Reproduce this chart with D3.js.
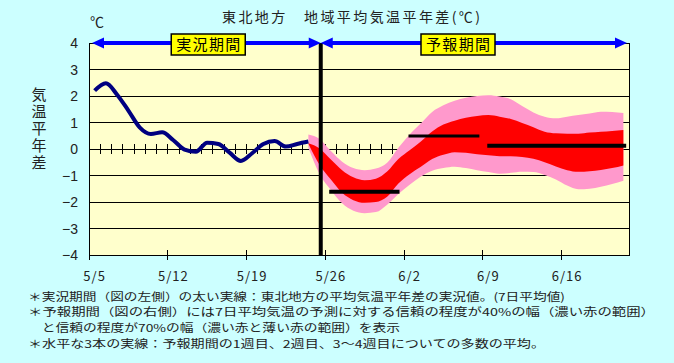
<!DOCTYPE html>
<html>
<head>
<meta charset="utf-8">
<script src="https://cdn.jsdelivr.net/npm/d3@7"></script>
<style>
    body { margin: 0; background: #ccffff; }
    text { font-family: "Noto Sans CJK JP", sans-serif; fill: #222; }
</style>
</head>
<body>
<svg id="chart"></svg>
<script>
// x labels every 7 days from 5/5
const dateLabels = ['5/5', '5/12', '5/19', '5/26', '6/2', '6/9', '6/16'];
const yTicks = [4, 3, 2, 1, 0, -1, -2, -3, -4];

// observed 7-day mean anomaly, 5/5 .. 5/24
const observed = [2.2, 2.48, 2.05, 1.45, 0.82, 0.57, 0.63, 0.33, -0.02, -0.1,
    0.24, 0.19, -0.14, -0.45, -0.16, 0.19, 0.3, 0.09, 0.19, 0.28];

// forecast band, 5/24 .. 6/21 (first point joins the observed line)
const forecastStart = 19;
const pinkUpper = [0.55, 0.38, -0.08, -0.48, -0.72, -0.8, -0.74, -0.52, 0.05, 0.55,
    0.97, 1.4, 1.65, 1.82, 1.93, 2.0, 2.03, 1.98, 1.88, 1.62,
    1.38, 1.22, 1.16, 1.22, 1.28, 1.34, 1.41, 1.4, 1.36];
const redUpper = [0.22, 0.02, -0.4, -0.8, -1.07, -1.18, -1.12, -0.85, -0.38, -0.05,
    0.28, 0.66, 0.92, 1.07, 1.18, 1.25, 1.28, 1.22, 1.13, 0.98,
    0.82, 0.65, 0.59, 0.58, 0.58, 0.62, 0.65, 0.68, 0.72];
const redLower = [0.2, -0.6, -1.15, -1.65, -1.93, -2.03, -2.0, -1.8, -1.3, -0.95,
    -0.67, -0.38, -0.22, -0.12, -0.14, -0.2, -0.24, -0.27, -0.27, -0.3,
    -0.37, -0.5, -0.66, -0.8, -0.86, -0.84, -0.79, -0.72, -0.62];
const pinkLower = [0.05, -0.95, -1.55, -2.05, -2.33, -2.42, -2.38, -2.1, -1.7, -1.35,
    -1.04, -0.82, -0.72, -0.67, -0.72, -0.8, -0.87, -0.93, -0.9, -0.86,
    -0.87, -0.98, -1.15, -1.38, -1.52, -1.5, -1.42, -1.32, -1.2];

// weekly means: [start day, end day, value]
const weekMeans = [[21.35, 27.6, -1.61], [28.4, 34.7, 0.49], [35.4, 47.75, 0.12]];
const boundaryDay = 20.6;

const notes = [
    '＊実況期間（図の左側）の太い実線：東北地方の平均気温平年差の実況値。(7日平均値)',
    '＊予報期間（図の右側）には7日平均気温の予測に対する信頼の程度が40%の幅（濃い赤の範囲）',
    '　と信頼の程度が70%の幅（濃い赤と薄い赤の範囲）を表示',
    '＊水平な3本の実線：予報期間の1週目、2週目、3～4週目についての多数の平均。'
];
const noteWidths = [537, 627, 372, 517];

const width = 674;
const height = 363;
const plotLeft = 89, plotRight = 629, plotTop = 43, plotBottom = 255;

const svg = d3.select('#chart').attr('width', width).attr('height', height);

const xScale = d3.scaleLinear().domain([0, 48]).range([plotLeft, plotRight]);
const yScale = d3.scaleLinear().domain([-4, 4]).range([plotBottom, plotTop]);

// plot background
svg.append('rect')
    .attr('x', plotLeft).attr('y', plotTop)
    .attr('width', plotRight - plotLeft).attr('height', plotBottom - plotTop)
    .attr('fill', '#ffffcc');

// horizontal grid lines
svg.selectAll('.grid')
    .data(yTicks)
    .enter().append('line')
    .attr('x1', plotLeft).attr('x2', plotRight)
    .attr('y1', d => yScale(d)).attr('y2', d => yScale(d))
    .attr('stroke', '#000').attr('stroke-width', 1)
    .attr('shape-rendering', 'crispEdges');

// daily ticks on the zero line
svg.selectAll('.dayTick')
    .data(d3.range(1, 48))
    .enter().append('line')
    .attr('x1', d => xScale(d)).attr('x2', d => xScale(d))
    .attr('y1', yScale(0) - 5).attr('y2', yScale(0) + 5)
    .attr('stroke', '#000').attr('shape-rendering', 'crispEdges');

// weekly ticks on the bottom
svg.selectAll('.weekTick')
    .data(dateLabels)
    .enter().append('line')
    .attr('x1', (d, i) => xScale(i * 7)).attr('x2', (d, i) => xScale(i * 7))
    .attr('y1', plotBottom - 5).attr('y2', plotBottom + 5)
    .attr('stroke', '#000').attr('shape-rendering', 'crispEdges');

// forecast bands
const dayOf = (i) => forecastStart + i + 0.5;
const band = (upper, lower) => d3.area()
    .x((d, i) => xScale(dayOf(i)))
    .y0((d, i) => yScale(lower[i]))
    .y1((d, i) => yScale(upper[i]))
    .curve(d3.curveMonotoneX)(upper);

svg.append('path').attr('d', band(pinkUpper, pinkLower)).attr('fill', '#ff99cc');
svg.append('path').attr('d', band(redUpper, redLower)).attr('fill', '#ff0000');

// observed line
const line = d3.line()
    .x((d, i) => xScale(i + 0.5))
    .y(d => yScale(d))
    .curve(d3.curveMonotoneX);

svg.append('path')
    .attr('d', line(observed))
    .attr('fill', 'none')
    .attr('stroke', '#000080')
    .attr('stroke-width', 4);

// weekly mean lines
svg.selectAll('.week')
    .data(weekMeans)
    .enter().append('line')
    .attr('x1', d => xScale(d[0])).attr('x2', d => xScale(d[1]))
    .attr('y1', d => yScale(d[2])).attr('y2', d => yScale(d[2]))
    .attr('stroke', '#000')
    .attr('stroke-width', (d, i) => i === 1 ? 3 : 4);

// border
svg.append('path')
    .attr('d', `M${plotLeft},${plotTop}V${plotBottom}H${plotRight}V${plotTop}`)
    .attr('fill', 'none').attr('stroke', '#000')
    .attr('shape-rendering', 'crispEdges');

// boundary between observed and forecast
const xb = xScale(boundaryDay);
svg.append('line')
    .attr('x1', xb).attr('x2', xb)
    .attr('y1', plotTop).attr('y2', plotBottom)
    .attr('stroke', '#000').attr('stroke-width', 4);

// period arrows
const arrowY = plotTop;
const drawArrow = (x1, x2) => {
    svg.append('line')
        .attr('x1', x1 + 6).attr('x2', x2 - 6)
        .attr('y1', arrowY).attr('y2', arrowY)
        .attr('stroke', '#0000ff').attr('stroke-width', 4);
    svg.append('path')
        .attr('d', `M${x1},${arrowY}L${x1 + 12},${arrowY - 5.5}L${x1 + 12},${arrowY + 5.5}Z`)
        .attr('fill', '#0000ff');
    svg.append('path')
        .attr('d', `M${x2},${arrowY}L${x2 - 12},${arrowY - 5.5}L${x2 - 12},${arrowY + 5.5}Z`)
        .attr('fill', '#0000ff');
};
drawArrow(plotLeft + 3, xb);
drawArrow(xb, plotRight - 2);

// period labels
const periodLabel = (cx, txt) => {
    svg.append('rect')
        .attr('x', cx - 37).attr('y', 34)
        .attr('width', 74).attr('height', 21)
        .attr('fill', '#ffff00').attr('stroke', '#000').attr('stroke-width', 1.5);
    svg.append('text')
        .attr('x', cx).attr('y', 50)
        .attr('text-anchor', 'middle')
        .attr('font-size', 15)
        .attr('textLength', 64)
        .style('fill', '#000')
        .text(txt);
};
periodLabel(xScale(10.6), '実況期間');
periodLabel(xScale(32.8), '予報期間');

// y labels
svg.selectAll('.yLabel')
    .data(yTicks)
    .enter().append('text')
    .attr('x', 78)
    .attr('y', d => yScale(d) + 5)
    .attr('text-anchor', 'end')
    .attr('font-size', 14)
    .style('font-family', '"Liberation Sans", Arial, sans-serif')
    .text(d => d < 0 ? '\u2212' + Math.abs(d) : String(d));

// x labels
svg.selectAll('.xLabel')
    .data(dateLabels)
    .enter().append('text')
    .attr('x', (d, i) => xScale(i * 7 + 0.5))
    .attr('y', 281)
    .attr('text-anchor', 'middle')
    .attr('font-size', 13)
    .attr('letter-spacing', 1)
    .text(d => d);

// title and units
svg.append('text')
    .attr('x', 222).attr('y', 22)
    .attr('font-size', 14)
    .attr('textLength', 258)
    .text('東北地方　地域平均気温平年差(℃)');

svg.append('text')
    .attr('x', 90).attr('y', 27)
    .attr('font-size', 14)
    .text('℃');

// vertical axis title
svg.append('text')
    .attr('x', 39)
    .attr('y', 87)
    .attr('font-size', 15)
    .attr('letter-spacing', 2)
    .style('writing-mode', 'vertical-rl')
    .text('気温平年差');

// notes
svg.selectAll('.note')
    .data(notes)
    .enter().append('text')
    .attr('x', 28)
    .attr('y', (d, i) => 300.5 + i * 15.67)
    .attr('font-size', 10.8)
    .attr('textLength', (d, i) => noteWidths[i])
    .attr('lengthAdjust', 'spacingAndGlyphs')
    .text(d => d);
</script>
</body>
</html>
